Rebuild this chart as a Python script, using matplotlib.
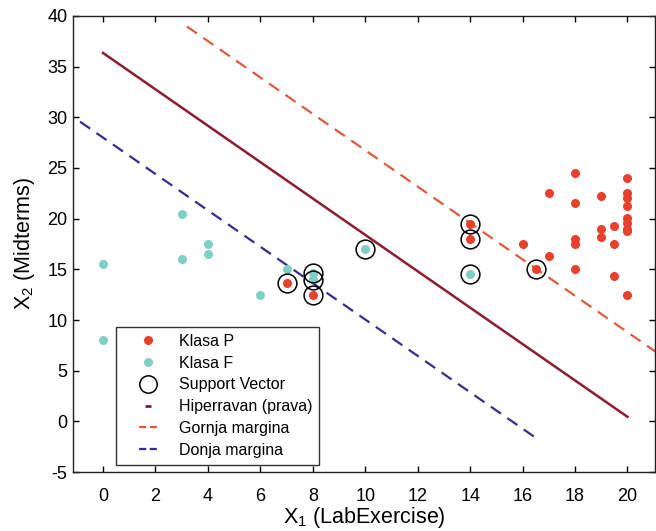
import matplotlib
matplotlib.use("Agg")
import matplotlib.pyplot as plt
from matplotlib.lines import Line2D
import numpy as np

plt.rcParams['font.family'] = ['Liberation Sans', 'DejaVu Sans']
plt.rcParams['mathtext.default'] = 'regular'
plt.rcParams['axes.unicode_minus'] = False

# Class P (red)
p_x = [18, 17, 18, 19, 20, 20, 20, 20, 20, 20, 20, 20, 19, 19, 19.5, 19.5,
       18, 18, 16, 17, 16.5, 18, 19.5, 20, 14, 14, 7, 8]
p_y = [24.5, 22.5, 21.5, 22.2, 24.0, 22.5, 22.0, 21.2, 20.1, 19.6, 19.0, 18.8, 19.0, 18.2, 19.3, 17.5,
       18.0, 17.5, 17.5, 16.3, 15.0, 15.0, 14.3, 12.5, 19.5, 18.0, 13.7, 12.5]
# Class F (cyan)
f_x = [0, 0, 3, 3, 4, 4, 6, 7, 8, 8, 10, 14]
f_y = [15.5, 8.0, 20.5, 16.0, 17.5, 16.5, 12.5, 15.0, 14.6, 14.0, 17.0, 14.5]
# Support vectors
sv_x = [7, 8, 8, 8, 10, 14, 14, 14, 16.5]
sv_y = [13.7, 14.6, 13.9, 12.5, 17.0, 19.5, 18.0, 14.5, 15.0]

# Hyperplane y = slope*x + intercept, margins at +/- offset
slope = -1.795
intercept = 36.35
margin_offset = 8.35
hyper_x = [0, 20]
upper_x = [3.2, 21.5]
lower_x = [-1.5, 16.5]

labels = ['Klasa P', 'Klasa F', 'Support Vector', 'Hiperravan (prava)',
          'Gornja margina', 'Donja margina']

red = '#e8402a'
cyan = '#80cfc6'
c_hyper = '#8c1d2e'
c_upper = '#e05a3e'
c_lower = '#3a2c8c'

fig = plt.figure(figsize=(6.56, 5.31), dpi=100)
ax = fig.add_axes([0.111, 0.111, 0.8875, 0.859])

ax.plot(p_x, p_y, 'o', color=red, ms=6.5, mec='none', zorder=3)
ax.plot(f_x, f_y, 'o', color=cyan, ms=6.5, mec='none', zorder=3)
ax.plot(sv_x, sv_y, 'o', mfc='none', mec='black', ms=13.5, mew=1.1, zorder=4)

hx = np.array(hyper_x)
ax.plot(hx, slope * hx + intercept, '-', color=c_hyper, lw=1.8, zorder=2)
ux = np.array(upper_x)
ax.plot(ux, slope * ux + intercept + margin_offset, '--', color=c_upper, lw=1.6,
        dashes=(5.5, 3.5), zorder=2)
lx = np.array(lower_x)
ax.plot(lx, slope * lx + intercept - margin_offset, '--', color=c_lower, lw=1.6,
        dashes=(5.5, 3.5), zorder=2)

ax.set_xlim(-1.15, 21.05)
ax.set_ylim(-5, 40)
ax.set_xticks(np.arange(0, 21, 2))
ax.set_yticks(np.arange(-5, 41, 5))
ax.tick_params(direction='in', top=True, right=True, labelsize=13, length=4, width=1)
ax.tick_params(axis='x', pad=11.5)
ax.tick_params(axis='y', pad=4)
for s in ax.spines.values():
    s.set_linewidth(1.0)
    s.set_color('#222222')

ax.set_xlabel('X$_1$ (LabExercise)', fontsize=15.5, labelpad=0)
ax.set_ylabel('X$_2$ (Midterms)', fontsize=15.5, labelpad=7)

# legend proxies (small centered icons, as in the original)
fs = 11.5
hl = 3.0
lw_m = 1.6
units = hl * fs / lw_m
pat = (3.2, 1.6, 3.2)
gap = (units - sum(pat)) / 2
tail = 20.0
patt = pat + (tail,)
offset = sum(patt) - gap
handles = [
    Line2D([], [], ls='none', marker='o', color=red, ms=6.5, mec='none'),
    Line2D([], [], ls='none', marker='o', color=cyan, ms=6.5, mec='none'),
    Line2D([], [], ls='none', marker='o', mfc='none', mec='black', ms=12.5, mew=1.1),
    Line2D([], [], ls='none', marker='_', color=c_hyper, ms=5, mew=2),
    Line2D([], [], ls=(offset, patt), color=c_upper, lw=lw_m),
    Line2D([], [], ls=(offset, patt), color=c_lower, lw=lw_m),
]
leg = ax.legend(handles, labels, loc='lower left', bbox_to_anchor=(0.075, 0.016), fontsize=fs,
                frameon=True, fancybox=False, edgecolor='black', handlelength=hl,
                labelspacing=0.42, borderpad=0.45, handletextpad=0.45, borderaxespad=0)
leg.get_frame().set_linewidth(1.0)

fig.savefig('out.png', dpi=100, facecolor='white')
